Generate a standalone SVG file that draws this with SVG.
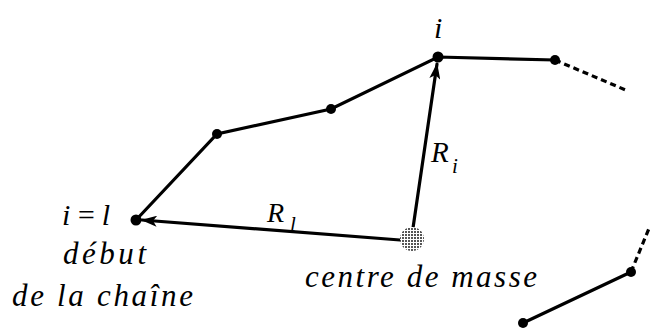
<svg xmlns="http://www.w3.org/2000/svg" width="650" height="328" viewBox="0 0 650 328">
<style>
.ln{stroke:#000;stroke-width:3.2;fill:none;stroke-linecap:round}
.dash{stroke:#000;stroke-width:3.2;fill:none;stroke-dasharray:6 4}
.dot{fill:#000}
.t{font-family:'Liberation Serif',serif;font-style:italic;fill:#000}
</style>
<defs>
<marker id="ah" viewBox="0 0 16 11" refX="15" refY="5.5" markerWidth="16" markerHeight="11" markerUnits="userSpaceOnUse" orient="auto">
<path d="M0,0 L16,5.5 L0,11 L4,5.5 Z" fill="#000"/>
</marker>
<pattern id="stip" width="3" height="3" patternUnits="userSpaceOnUse">
<rect width="3" height="3" fill="#fff"/>
<rect width="2" height="2" fill="#555"/>
</pattern>
</defs>
<g id="connectors">
<polyline class="ln" points="136,220 217,134 331,109 438,57 555,60"/>
<line class="dash" x1="555" y1="60" x2="628" y2="91"/>
<line class="ln" x1="523" y1="323" x2="631" y2="272"/>
<line class="dash" x1="631" y1="272" x2="650" y2="226"/>
<line class="ln" x1="400" y1="240" x2="142" y2="220" marker-end="url(#ah)"/>
<line class="ln" x1="413" y1="228" x2="437" y2="64" marker-end="url(#ah)"/>
</g>
<g id="node-1"><circle class="dot" cx="136" cy="220" r="5.5"/></g>
<g id="node-2"><circle class="dot" cx="217" cy="134" r="5"/></g>
<g id="node-3"><circle class="dot" cx="331" cy="109" r="5"/></g>
<g id="node-i"><circle class="dot" cx="438" cy="57" r="5.5"/></g>
<g id="node-5"><circle class="dot" cx="555" cy="60" r="5"/></g>
<g id="node-6"><circle class="dot" cx="631" cy="272" r="5"/></g>
<g id="node-7"><circle class="dot" cx="523" cy="323" r="5"/></g>
<g id="centre"><circle cx="412" cy="239" r="12" fill="url(#stip)"/></g>
<g id="labels">
<text class="t" x="434" y="38" font-size="30">i</text>
<text class="t" x="431" y="162" font-size="29">R</text>
<text class="t" x="452" y="173" font-size="21">i</text>
<text class="t" x="267" y="222" font-size="28">R</text>
<text class="t" x="290" y="231" font-size="21">l</text>
<text class="t" x="62" y="225" font-size="30" textLength="48" lengthAdjust="spacing">i=l</text>
<text class="t" x="63" y="264" font-size="31" textLength="83" lengthAdjust="spacing">début</text>
<text class="t" x="12" y="306" font-size="31" textLength="181" lengthAdjust="spacing">de la chaîne</text>
<text class="t" x="305" y="287" font-size="31" textLength="232" lengthAdjust="spacing">centre de masse</text>
</g>
</svg>
